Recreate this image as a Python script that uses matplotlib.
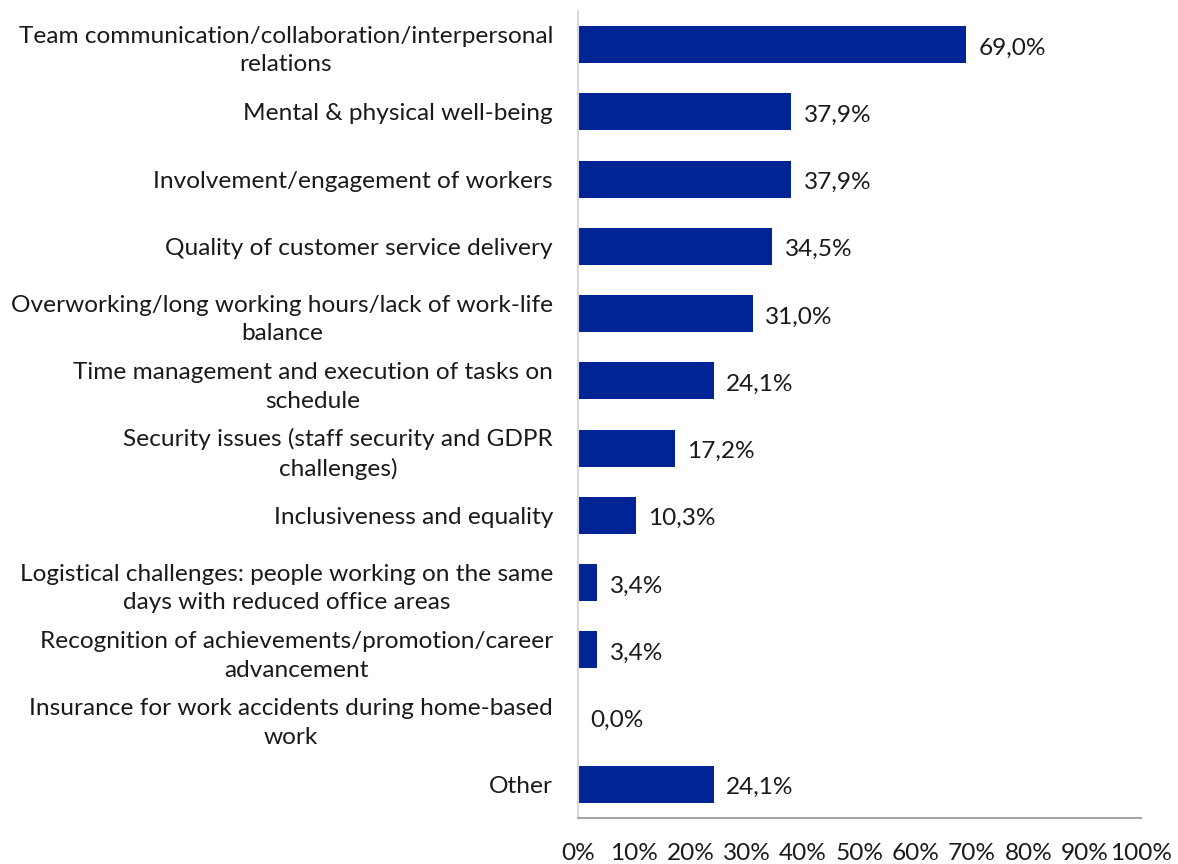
import matplotlib
matplotlib.use("Agg")
import matplotlib.pyplot as plt
from matplotlib.ticker import FixedLocator

categories = [
    "Team communication/collaboration/interpersonal\nrelations",
    "Mental & physical well-being",
    "Involvement/engagement of workers",
    "Quality of customer service delivery",
    "Overworking/long working hours/lack of work-life\nbalance",
    "Time management and execution of tasks on\nschedule",
    "Security issues (staff security and GDPR\nchallenges)",
    "Inclusiveness and equality",
    "Logistical challenges: people working on the same\ndays with reduced office areas",
    "Recognition of achievements/promotion/career\nadvancement",
    "Insurance for work accidents during home-based\nwork",
    "Other",
]
values = [69.0, 37.9, 37.9, 34.5, 31.0, 24.1, 17.2, 10.3, 3.4, 3.4, 0.0, 24.1]
x_ticks = [0, 10, 20, 30, 40, 50, 60, 70, 80, 90, 100]
x_tick_labels = [f"{t}%" for t in x_ticks]

plt.rcParams['font.family'] = ['Lato', 'DejaVu Sans']
FS = 17.6

fig = plt.figure(figsize=(11.78, 8.64), dpi=100)
ax = fig.add_axes([578/1178, 1 - 818/864, (1141-578)/1178, (818-11)/864])

y = list(range(len(categories)))
ax.barh(y, values, height=0.55, color="#002395")
ax.set_ylim(len(categories) - 0.5, -0.5)
ax.set_xlim(0, 100)

for yi, v in zip(y, values):
    ax.text(v + 2.2, yi + 0.05, f"{v:.1f}%".replace(".", ","), va="center", ha="left",
            fontsize=FS, color="#1a1a1a")

ax.set_yticks(y)
ax.set_yticklabels(categories, fontsize=FS, color="#1a1a1a", multialignment="center",
                   linespacing=1.45)
ax.tick_params(axis="y", length=0, pad=18)
ax.xaxis.set_major_locator(FixedLocator(x_ticks))
ax.set_xticklabels(x_tick_labels, fontsize=FS, color="#1a1a1a")
ax.tick_params(axis="x", length=0, pad=18)

for s in ["top", "right"]:
    ax.spines[s].set_visible(False)
ax.spines["left"].set_color("#d9d9d9")
ax.spines["left"].set_linewidth(1.5)
ax.spines["bottom"].set_color("#a6a6a6")
ax.spines["bottom"].set_linewidth(1.5)

fig.savefig("out.png", dpi=100)
